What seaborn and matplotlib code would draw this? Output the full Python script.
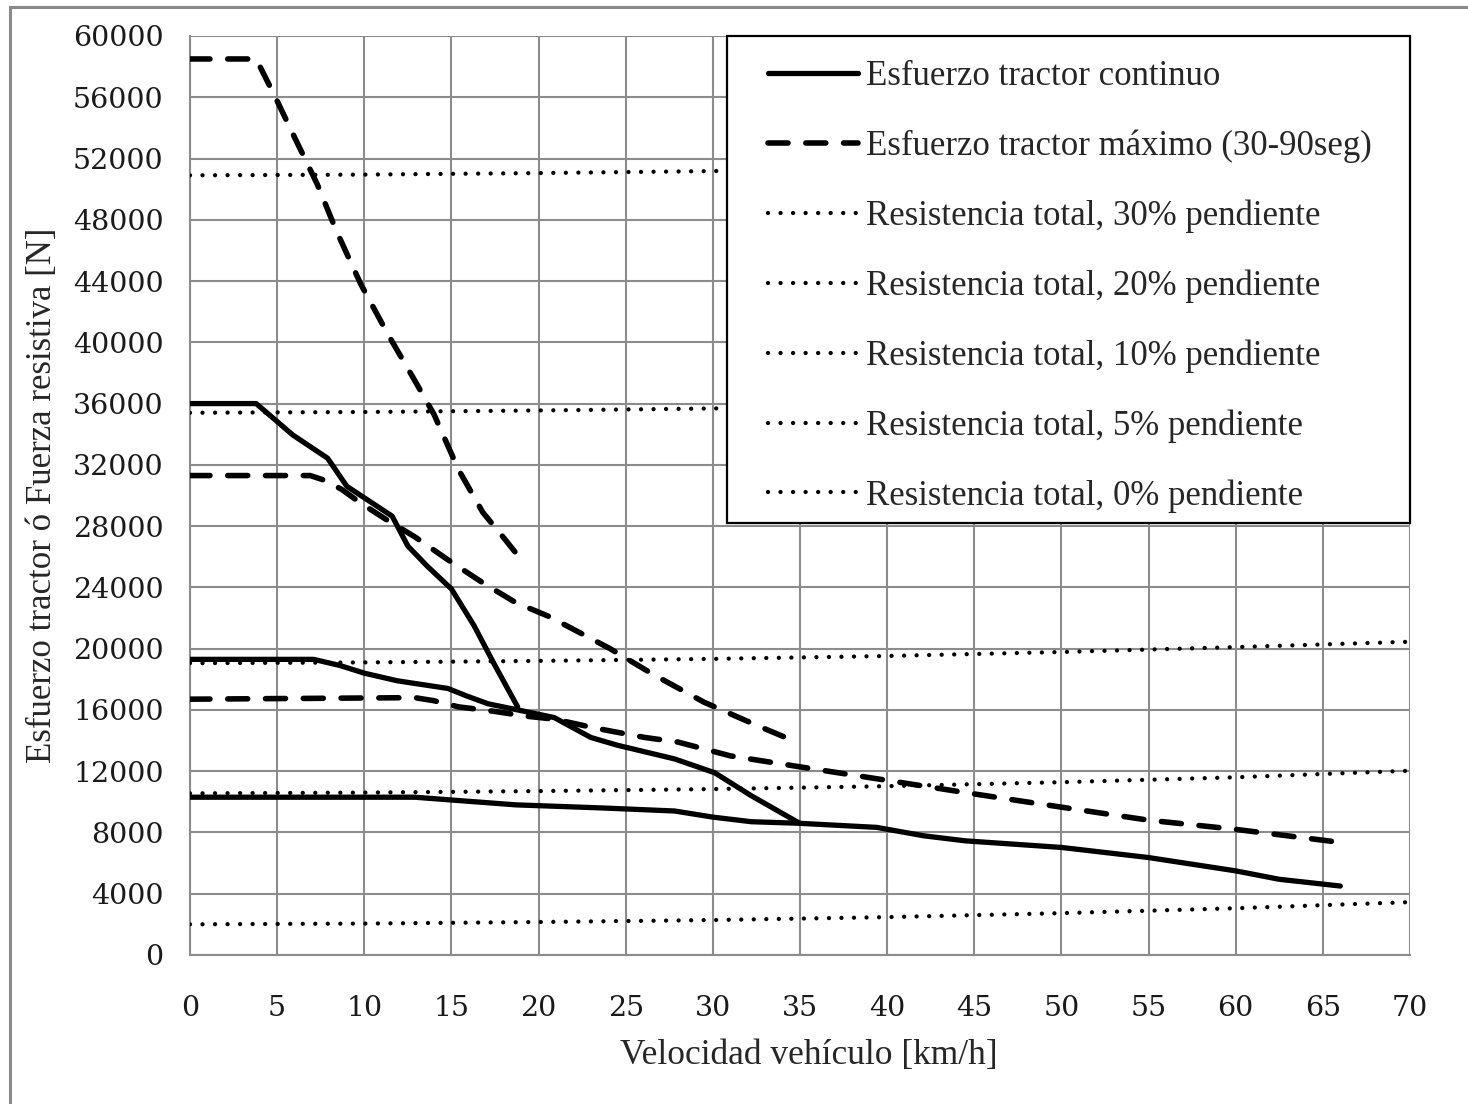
import numpy as np
import pandas as pd
import matplotlib
matplotlib.use("Agg")
import matplotlib.pyplot as plt
from matplotlib.patches import Rectangle
import seaborn as sns

# Tractive effort, continuous rating (one curve per gear)
cont_g1_v = [0, 3.8, 5.9, 7.9, 9.0, 10.2, 11.6, 12.5, 13.6, 15.0, 16.3, 17.5, 18.8]
cont_g1_f = [36000, 36000, 33950, 32430, 30600, 29700, 28650, 26700, 25400, 23900, 21500, 18900, 16200]

cont_g2_v = [0, 7.1, 8.6, 10.0, 11.9, 14.8, 15.9, 17.1, 18.8, 20.9, 23.0, 24.5, 27.8, 30.1, 32.2, 34.9]
cont_g2_f = [19300, 19300, 18900, 18400, 17900, 17400, 16900, 16400, 16000, 15500, 14200, 13700, 12800, 11900, 10400, 8650]

cont_g3_v = [0, 12.9, 15.2, 18.7, 23.6, 27.8, 30.0, 32.2, 34.9, 39.4, 42.1, 44.5, 50.0, 55.0, 60.0, 62.5, 66.0]
cont_g3_f = [10300, 10300, 10100, 9800, 9600, 9400, 9000, 8700, 8600, 8330, 7780, 7450, 7020, 6360, 5490, 4940, 4500]

# Tractive effort, maximum rating (30-90 s)
max_g1_v = [0, 3.8, 4.9, 6.1, 7.3, 8.4, 9.8, 11.35, 12.9, 14.0, 15.4, 16.8, 18.1, 18.8]
max_g1_f = [58500, 58500, 56000, 53150, 50330, 47280, 43800, 40540, 37500, 35300, 31700, 28900, 27100, 26100]

max_g2_v = [0, 6.9, 7.7, 8.7, 9.8, 11.3, 12.9, 14.8, 16.8, 18.7, 20.6, 22.6, 24.1, 26.6, 29.5, 32.5, 34.8]
max_g2_f = [31300, 31300, 31000, 30400, 29500, 28400, 27300, 25800, 24300, 23000, 22100, 20900, 20000, 18300, 16500, 15000, 13900]

max_g3_v = [0, 12.9, 14.0, 15.4, 17.5, 19.2, 20.9, 23.3, 26.1, 28.0, 31.0, 34.9, 40.0, 44.5, 50.0, 55.0, 60.0, 66.0]
max_g3_f = [16700, 16800, 16600, 16200, 15900, 15600, 15400, 14800, 14200, 13900, 13000, 12300, 11400, 10600, 9650, 8800, 8200, 7350]

# Total running resistance for each grade
res_v = [0, 10, 20, 30, 40, 50, 60, 70]
res_30 = [50900, 50950, 51050, 51180, 51370, 51630, 51950, 52350]
res_20 = [35400, 35450, 35550, 35680, 35870, 36130, 36450, 36850]
res_10 = [19050, 19100, 19200, 19330, 19520, 19780, 20100, 20450]
res_05 = [10550, 10600, 10700, 10830, 11020, 11280, 11600, 12030]
res_00 = [2000, 2050, 2150, 2280, 2470, 2730, 3050, 3450]

x_ticks = list(range(0, 71, 5))
y_ticks = list(range(0, 60001, 4000))

lbl_cont = "Esfuerzo tractor continuo"
lbl_max = "Esfuerzo tractor máximo (30-90seg)"
res_labels = ["Resistencia total, 30% pendiente",
              "Resistencia total, 20% pendiente",
              "Resistencia total, 10% pendiente",
              "Resistencia total, 5% pendiente",
              "Resistencia total, 0% pendiente"]

sns.set_style("white")
plt.rcParams["font.family"] = ["Liberation Serif", "DejaVu Serif"]

fig = plt.figure(figsize=(14.68, 11.04), dpi=100)
ax = fig.add_axes([0.1294, 0.135, 0.8311, 0.8324])

GRID = "#8c8c8c"
SOLID = dict(color="black", linewidth=3.8, solid_capstyle="round", solid_joinstyle="round")
DASH = dict(color="black", linewidth=4.0, linestyle=(0, (3.6, 3.2)), dash_capstyle="round")
DOT = dict(color="black", linewidth=3.1, linestyle=(0, (0.01, 2.9)), dash_capstyle="round")

def draw(v, f, label, style):
    df = pd.DataFrame({"v": v, "f": f})
    sns.lineplot(data=df, x="v", y="f", ax=ax, label=label, sort=False,
                 estimator=None, zorder=3, **style)

draw(cont_g1_v, cont_g1_f, lbl_cont, SOLID)
draw(max_g1_v, max_g1_f, lbl_max, DASH)
for vals, lab in zip([res_30, res_20, res_10, res_05, res_00], res_labels):
    draw(res_v, vals, lab, DOT)
draw(cont_g2_v, cont_g2_f, None, SOLID)
draw(cont_g3_v, cont_g3_f, None, SOLID)
draw(max_g2_v, max_g2_f, None, DASH)
draw(max_g3_v, max_g3_f, None, DASH)

ax.set_xlim(0, 70)
ax.set_ylim(0, 60000)
ax.set_xticks(x_ticks)
ax.set_yticks(y_ticks)
ax.grid(True, color=GRID, linewidth=1.5)
ax.set_axisbelow(True)
for side in ["top", "right"]:
    ax.spines[side].set_visible(False)
for side in ["left", "bottom"]:
    ax.spines[side].set_color(GRID)
    ax.spines[side].set_linewidth(1.5)
ax.tick_params(axis="both", direction="out", length=7, width=1.5, color=GRID,
               labelsize=20.5)
ax.tick_params(axis="y", pad=12)
ax.tick_params(axis="x", pad=22)
for t in ax.get_xticklabels() + ax.get_yticklabels():
    t.set_fontfamily("DejaVu Serif")
    t.set_color("#1a1a1a")

ax.set_xlabel("Velocidad vehículo [km/h]", fontsize=25.5, labelpad=12)
ax.xaxis.label.set_x(0.507)
ax.set_ylabel("Esfuerzo tractor ó Fuerza resistiva [N]", fontsize=25, labelpad=10)

# Legend frame and entries
ax.add_patch(Rectangle((0.440, 0.470), 0.560, 0.530, transform=ax.transAxes,
                       facecolor="white", edgecolor="black", linewidth=1.6,
                       zorder=4, clip_on=False))
leg = ax.legend(loc="upper left", bbox_to_anchor=(0.4738, 0.974), frameon=False,
                fontsize=25, handlelength=2.6, handletextpad=0.22,
                labelspacing=1.05, borderpad=0.0, borderaxespad=0.0)
leg.set_zorder(5)

# Outer border
fig.add_artist(Rectangle((10 / 1468, -0.1), 1.2, 1.1 - 7 / 1104, transform=fig.transFigure,
                         facecolor="none", edgecolor="#8a8a8a", linewidth=2.2))

fig.savefig("out.png", dpi=100)
